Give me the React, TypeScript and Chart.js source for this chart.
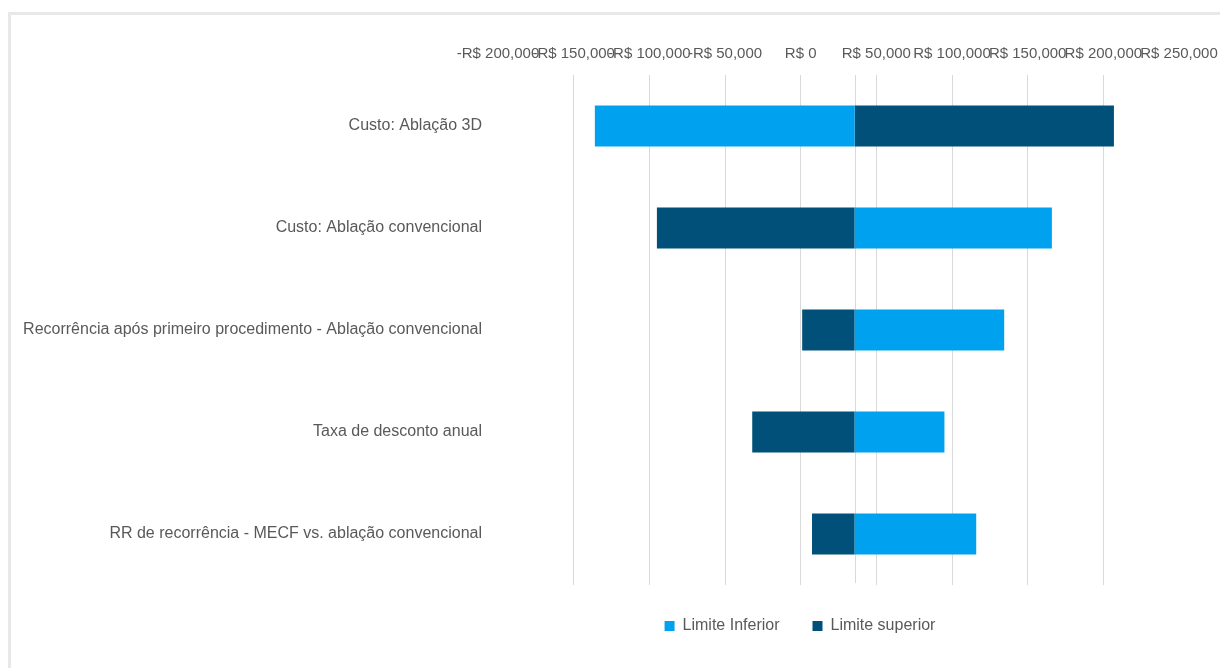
import React, { useEffect, useRef } from "react";
import { Chart, registerables } from "chart.js";

Chart.register(...registerables);

const categories = [
  "Custo: Ablação 3D",
  "Custo: Ablação convencional",
  "Recorrência após primeiro procedimento - Ablação convencional",
  "Taxa de desconto anual",
  "RR de recorrência - MECF vs. ablação convencional",
];

const baseValue = 35700;
const limiteInferior = [-136000, 166000, 134500, 95000, 116000];
const limiteSuperior = [207000, -95000, 1000, -32000, 7500];

const axisMin = -200000;
const axisMax = 250000;
const axisStep = 50000;

const seriesNames = ["Limite Inferior", "Limite superior"];
const seriesColors = ["#00A1EE", "#00507A"];

const FONT = "'Liberation Sans', Arial, sans-serif";
const TEXT = "#595959";
const LEGEND_CENTER_X = 800;

const fmt = (v: number) => {
  const abs = Math.abs(v).toLocaleString("en-US");
  return (v < 0 ? "-R$ " : "R$ ") + abs;
};

const baseLinePlugin = {
  id: "baseLine",
  beforeDatasetsDraw(chart: any) {
    const { ctx, chartArea, scales } = chart;
    const x = Math.round(scales.x.getPixelForValue(baseValue)) + 0.5;
    ctx.save();
    ctx.strokeStyle = "#d9d9d9";
    ctx.lineWidth = 1;
    ctx.beginPath();
    ctx.moveTo(x, chartArea.top);
    ctx.lineTo(x, chartArea.bottom - 2);
    ctx.stroke();
    ctx.restore();
  },
};

const legendShiftPlugin = {
  id: "legendShift",
  afterLayout(chart: any) {
    const lg = chart.legend;
    if (!lg) return;
    const dx = LEGEND_CENTER_X - (lg.left + lg.right) / 2;
    lg.left += dx;
    lg.right += dx;
  },
};

export default function App() {
  const ref = useRef<HTMLCanvasElement | null>(null);

  useEffect(() => {
    if (!ref.current) return;
    const chart = new Chart(ref.current, {
      type: "bar",
      data: {
        labels: categories,
        datasets: [
          {
            label: seriesNames[0],
            data: limiteInferior.map((v) => [baseValue, v]) as any,
            backgroundColor: seriesColors[0],
            borderWidth: 0,
            grouped: false,
            categoryPercentage: 1,
            barPercentage: 0.4,
          },
          {
            label: seriesNames[1],
            data: limiteSuperior.map((v) => [baseValue, v]) as any,
            backgroundColor: seriesColors[1],
            borderWidth: 0,
            grouped: false,
            categoryPercentage: 1,
            barPercentage: 0.4,
          },
        ],
      },
      plugins: [baseLinePlugin, legendShiftPlugin],
      options: {
        indexAxis: "y",
        responsive: false,
        animation: false,
        devicePixelRatio: 1,
        layout: { padding: { left: 0, right: 41, top: 0, bottom: 24 } },
        plugins: {
          tooltip: { enabled: false },
          legend: {
            position: "bottom",
            labels: {
              boxWidth: 10,
              boxHeight: 10,
              padding: 33,
              color: TEXT,
              font: { family: FONT, size: 16 },
            },
          },
        },
        scales: {
          x: {
            position: "top",
            min: axisMin,
            max: axisMax,
            afterFit: (s: any) => {
              s.height = 75;
              s.paddingLeft = 0;
              s.paddingRight = 0;
            },
            ticks: {
              stepSize: axisStep,
              autoSkip: false,
              maxRotation: 0,
              minRotation: 0,
              padding: 12,
              color: TEXT,
              font: { family: FONT, size: 15 },
              callback: (v: any) => fmt(Number(v)),
            },
            grid: {
              drawTicks: false,
              color: (c: any) =>
                c.tick && (c.tick.value === axisMin || c.tick.value === axisMax)
                  ? "rgba(0,0,0,0)"
                  : "#d9d9d9",
            },
            border: { display: false },
          },
          y: {
            afterFit: (s: any) => {
              s.width = 498;
            },
            ticks: {
              padding: 16,
              color: TEXT,
              font: { family: FONT, size: 16 },
            },
            grid: { display: false, drawTicks: false },
            border: { display: false },
          },
        },
      },
    } as any);
    return () => chart.destroy();
  }, []);

  return (
    <div
      style={{
        position: "fixed",
        left: 0,
        top: 0,
        width: 1220,
        height: 668,
        overflow: "hidden",
        background: "#fff",
      }}
    >
      <div
        style={{
          position: "absolute",
          left: 8,
          top: 12,
          width: 1240,
          height: 700,
          borderTop: "3px solid #e8e8e8",
          borderLeft: "3px solid #e8e8e8",
        }}
      />
      <canvas
        ref={ref}
        width={1220}
        height={668}
        style={{ position: "absolute", left: 0, top: 0 }}
      />
    </div>
  );
}
